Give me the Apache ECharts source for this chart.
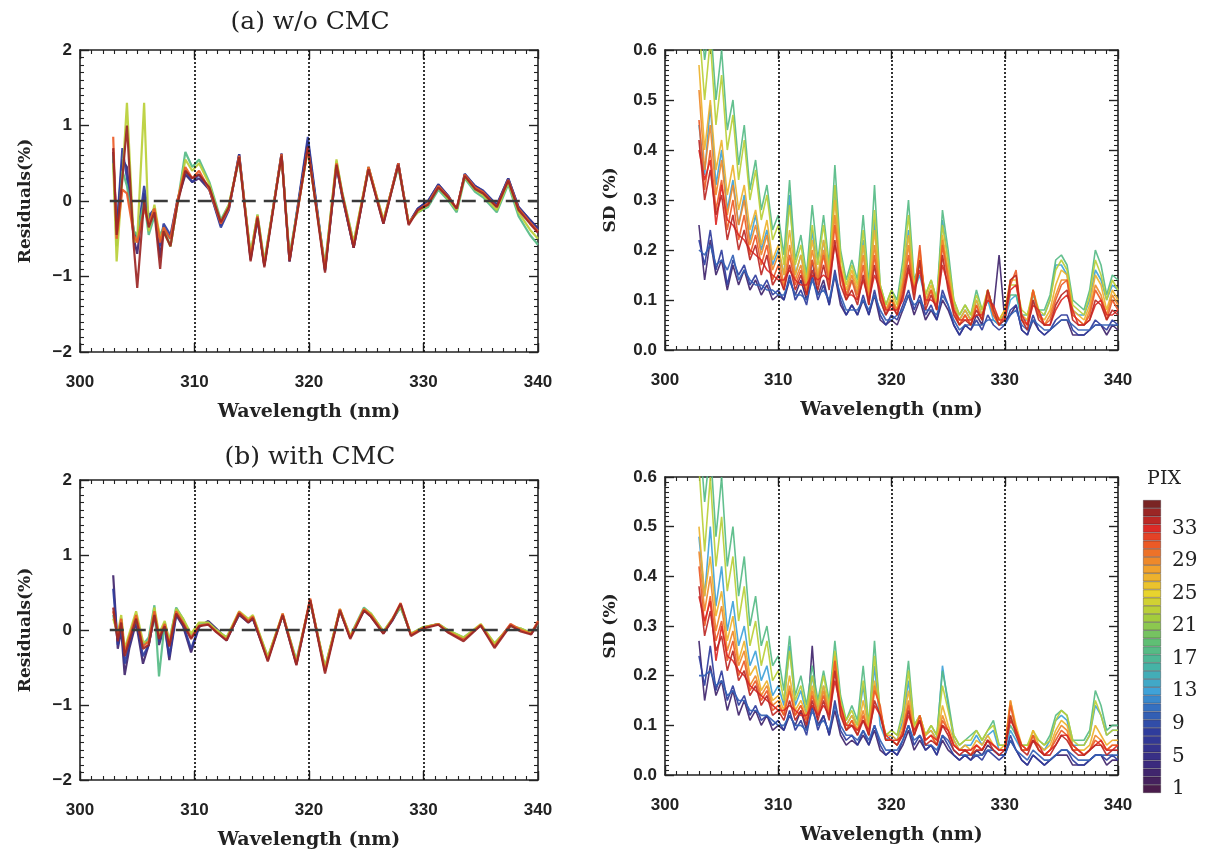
<!DOCTYPE html>
<html><head><meta charset="utf-8">
<script src="https://cdn.jsdelivr.net/npm/echarts/dist/echarts.min.js"></script>
<style>html,body{margin:0;padding:0;background:#fff}#c{width:1229px;height:852px}</style>
</head><body><div id="c"></div>
<script>
// ---------------- DATA ----------------
const xTicks = [300, 310, 320, 330, 340];
const guideLines = [310, 320, 330];
const zeroLineX = [302.6, 340];
const colorbarPix = [1,2,3,4,5,6,7,8,9,10,11,12,13,14,15,16,17,18,19,20,21,22,23,24,25,26,27,28,29,30,31,32,33,34,35,36];

// (a) w/o CMC residuals
const wlResA = [302.9,303.2,303.7,304.1,304.7,305.0,305.6,306.0,306.5,307.0,307.3,307.9,308.5,309.2,309.8,310.4,
  311.3,312.3,313.0,313.9,314.9,315.5,316.1,317.6,318.3,319.9,321.4,322.4,322.9,323.9,325.2,326.5,
  327.8,328.7,329.5,330.4,331.3,332.2,332.9,333.6,334.5,335.2,336.4,337.4,338.3,339.3,340.0];
const resA_p3 = [0.65,-0.40,0.55,0.45,-0.50,-0.70,0.10,-0.25,-0.10,-0.75,-0.35,-0.50,0.00,0.35,0.25,0.30,
  0.15,-0.32,-0.10,0.62,-0.78,-0.22,-0.86,0.63,-0.80,0.80,-0.92,0.46,0.06,-0.62,0.44,-0.30,
  0.50,-0.30,-0.10,0.00,0.22,0.06,-0.12,0.35,0.20,0.13,-0.06,0.30,-0.08,-0.25,-0.36];
const resA_p8 = [0.60,-0.40,0.70,0.30,-0.40,-0.50,0.20,-0.20,-0.10,-0.60,-0.30,-0.45,0.00,0.40,0.25,0.35,
  0.15,-0.35,-0.12,0.62,-0.75,-0.25,-0.85,0.62,-0.80,0.85,-0.92,0.48,0.08,-0.62,0.45,-0.28,
  0.50,-0.30,-0.10,0.00,0.22,0.06,-0.12,0.36,0.20,0.14,-0.05,0.30,-0.08,-0.25,-0.38];
const resA_p18 = [0.60,-0.60,0.40,0.20,-0.40,-0.45,0.00,-0.45,-0.20,-0.45,-0.35,-0.60,-0.05,0.65,0.45,0.55,
  0.25,-0.25,-0.05,0.55,-0.70,-0.18,-0.80,0.60,-0.72,0.68,-0.85,0.52,0.12,-0.55,0.42,-0.25,
  0.45,-0.28,-0.15,-0.08,0.15,0.00,-0.15,0.30,0.12,0.05,-0.15,0.22,-0.20,-0.45,-0.58];
const resA_p23 = [0.50,-0.80,0.30,1.30,-0.55,-0.50,1.30,-0.40,-0.05,-0.50,-0.40,-0.60,-0.05,0.55,0.40,0.50,
  0.22,-0.28,-0.05,0.58,-0.70,-0.18,-0.82,0.60,-0.75,0.68,-0.88,0.55,0.10,-0.55,0.45,-0.25,
  0.48,-0.28,-0.15,-0.05,0.18,0.02,-0.12,0.32,0.15,0.08,-0.12,0.25,-0.15,-0.38,-0.50];
const resA_p31 = [0.85,-0.50,0.15,0.10,-0.45,-0.55,-0.10,-0.30,-0.10,-0.55,-0.35,-0.50,0.00,0.45,0.30,0.40,
  0.15,-0.30,-0.10,0.60,-0.75,-0.20,-0.85,0.62,-0.78,0.70,-0.90,0.50,0.10,-0.60,0.45,-0.28,
  0.50,-0.30,-0.12,-0.03,0.20,0.05,-0.10,0.35,0.18,0.12,-0.08,0.28,-0.10,-0.28,-0.40];
const resA_p35 = [0.70,-0.45,0.30,1.00,-0.60,-1.15,0.00,-0.35,-0.15,-0.90,-0.40,-0.60,-0.05,0.40,0.30,0.35,
  0.18,-0.28,-0.08,0.58,-0.80,-0.22,-0.88,0.60,-0.80,0.72,-0.95,0.48,0.08,-0.62,0.42,-0.30,
  0.48,-0.32,-0.12,-0.05,0.18,0.04,-0.10,0.33,0.16,0.10,-0.08,0.27,-0.12,-0.30,-0.42];

// (b) with CMC residuals
const wlResB = [302.9,303.3,303.6,303.9,304.3,304.9,305.5,306.0,306.5,306.9,307.4,307.8,308.4,309.0,309.7,310.4,
  311.2,311.9,312.8,313.9,314.7,315.1,316.4,317.7,318.9,320.1,321.4,322.7,323.6,324.8,325.4,326.5,
  327.3,328.0,328.9,330.0,331.3,332.1,333.5,335.0,336.2,337.6,338.5,339.4,340.0];
const resB_p3 = [0.73,-0.25,0.00,-0.60,-0.25,0.10,-0.45,-0.20,0.20,-0.20,0.05,-0.40,0.20,0.05,-0.30,0.04,
  0.12,0.02,-0.12,0.20,0.10,0.15,-0.38,0.20,-0.44,0.38,-0.52,0.26,-0.10,0.26,0.18,-0.04,
  0.13,0.32,-0.06,0.03,0.08,-0.02,-0.12,0.06,-0.20,0.06,0.00,-0.05,0.08];
const resB_p8 = [0.55,-0.20,0.05,-0.45,-0.20,0.15,-0.35,-0.20,0.22,-0.15,0.05,-0.35,0.22,0.08,-0.25,0.05,
  0.10,-0.02,-0.14,0.22,0.10,0.15,-0.40,0.20,-0.46,0.40,-0.54,0.27,-0.10,0.27,0.20,-0.04,
  0.14,0.33,-0.06,0.03,0.08,-0.02,-0.12,0.07,-0.20,0.07,0.00,-0.05,0.10];
const resB_p18 = [0.20,-0.10,0.15,-0.30,-0.08,0.15,-0.20,-0.10,0.33,-0.62,0.10,-0.15,0.30,0.15,-0.08,0.08,
  0.10,0.00,-0.10,0.22,0.12,0.18,-0.36,0.20,-0.40,0.38,-0.50,0.26,-0.08,0.30,0.22,-0.02,
  0.15,0.30,-0.05,0.04,0.08,0.00,-0.10,0.06,-0.18,0.05,0.02,-0.04,0.08];
const resB_p23 = [0.15,-0.05,0.20,-0.25,-0.05,0.25,-0.15,-0.18,0.30,-0.05,0.12,-0.15,0.28,0.15,-0.05,0.10,
  0.10,0.00,-0.10,0.25,0.15,0.20,-0.36,0.22,-0.42,0.40,-0.50,0.28,-0.08,0.28,0.22,-0.02,
  0.16,0.32,-0.05,0.04,0.08,0.00,-0.10,0.08,-0.18,0.06,0.02,-0.04,0.10];
const resB_p31 = [0.25,-0.10,0.15,-0.30,-0.10,0.20,-0.22,-0.15,0.25,-0.10,0.08,-0.20,0.25,0.10,-0.10,0.06,
  0.08,-0.02,-0.13,0.24,0.12,0.18,-0.40,0.22,-0.45,0.42,-0.55,0.28,-0.10,0.28,0.20,-0.04,
  0.15,0.36,-0.06,0.03,0.08,-0.02,-0.13,0.07,-0.22,0.08,0.00,-0.05,0.12];
const resB_p35 = [0.30,-0.15,0.10,-0.35,-0.15,0.15,-0.25,-0.20,0.20,-0.12,0.05,-0.22,0.22,0.08,-0.12,0.05,
  0.07,-0.03,-0.14,0.22,0.10,0.16,-0.42,0.20,-0.47,0.40,-0.58,0.26,-0.12,0.26,0.18,-0.05,
  0.14,0.35,-0.08,0.02,0.07,-0.03,-0.15,0.06,-0.24,0.06,-0.02,-0.06,0.10];

// SD panels (shared wavelength grid)
const wlSD = [303.0,303.5,304.0,304.5,305.0,305.5,306.0,306.5,307.0,307.5,308.0,308.5,309.0,309.5,310.0,
  310.5,311.0,311.5,312.0,312.5,313.0,313.5,314.0,314.5,315.0,315.5,316.0,316.5,317.0,317.5,
  318.0,318.5,319.0,319.5,320.0,320.5,321.0,321.5,322.0,322.5,323.0,323.5,324.0,324.5,325.0,
  325.5,326.0,326.5,327.0,327.5,328.0,328.5,329.0,329.5,330.0,330.5,331.0,331.5,332.0,332.5,
  333.0,333.5,334.0,334.5,335.0,335.5,336.0,336.5,337.0,337.5,338.0,338.5,339.0,339.5,340.0];

// SD without CMC
const sdA_p3 = [0.25,0.14,0.22,0.15,0.18,0.12,0.17,0.13,0.16,0.12,0.14,0.11,0.13,0.10,0.11,
  0.10,0.14,0.11,0.14,0.10,0.18,0.11,0.14,0.09,0.15,0.09,0.07,0.09,0.07,0.10,
  0.07,0.11,0.06,0.05,0.06,0.05,0.08,0.11,0.07,0.10,0.06,0.08,0.06,0.10,0.08,
  0.05,0.03,0.05,0.04,0.07,0.05,0.12,0.08,0.19,0.06,0.07,0.09,0.04,0.03,0.06,
  0.04,0.03,0.04,0.05,0.06,0.06,0.03,0.03,0.03,0.04,0.05,0.05,0.03,0.05,0.04];
const sdA_p8 = [0.22,0.17,0.24,0.16,0.20,0.13,0.18,0.15,0.17,0.13,0.15,0.12,0.14,0.11,0.12,
  0.10,0.15,0.10,0.12,0.09,0.15,0.10,0.13,0.09,0.16,0.10,0.07,0.09,0.07,0.11,
  0.07,0.12,0.07,0.05,0.07,0.06,0.09,0.12,0.08,0.11,0.07,0.09,0.06,0.12,0.09,
  0.05,0.03,0.05,0.04,0.06,0.04,0.07,0.05,0.04,0.05,0.08,0.09,0.04,0.03,0.07,
  0.04,0.03,0.04,0.06,0.07,0.07,0.04,0.03,0.03,0.04,0.06,0.05,0.04,0.06,0.05];
const sdA_p10 = [0.20,0.19,0.21,0.17,0.18,0.16,0.19,0.14,0.16,0.14,0.13,0.13,0.12,0.12,0.11,
  0.11,0.14,0.11,0.11,0.10,0.14,0.11,0.12,0.10,0.15,0.11,0.08,0.08,0.08,0.10,
  0.08,0.11,0.08,0.06,0.06,0.07,0.08,0.11,0.09,0.10,0.08,0.08,0.07,0.11,0.09,
  0.06,0.04,0.05,0.05,0.05,0.05,0.06,0.06,0.05,0.05,0.07,0.08,0.05,0.04,0.06,
  0.05,0.04,0.04,0.05,0.06,0.06,0.05,0.04,0.04,0.04,0.05,0.05,0.05,0.05,0.05];
const sdA_p13 = [0.45,0.35,0.49,0.33,0.40,0.28,0.34,0.25,0.31,0.22,0.27,0.20,0.24,0.17,0.20,
  0.15,0.31,0.15,0.19,0.13,0.24,0.14,0.22,0.14,0.33,0.16,0.11,0.14,0.11,0.22,
  0.10,0.26,0.10,0.07,0.10,0.08,0.14,0.24,0.12,0.15,0.10,0.12,0.09,0.26,0.18,
  0.09,0.06,0.08,0.06,0.10,0.07,0.10,0.06,0.05,0.06,0.10,0.11,0.06,0.06,0.10,
  0.07,0.07,0.10,0.17,0.17,0.15,0.08,0.07,0.07,0.10,0.16,0.14,0.10,0.13,0.12];
const sdA_p18 = [0.70,0.58,0.66,0.50,0.60,0.44,0.50,0.37,0.45,0.32,0.38,0.28,0.33,0.24,0.27,
  0.19,0.34,0.18,0.23,0.15,0.29,0.18,0.27,0.17,0.37,0.20,0.14,0.18,0.14,0.27,
  0.13,0.33,0.13,0.09,0.12,0.10,0.18,0.30,0.14,0.17,0.11,0.14,0.10,0.28,0.20,
  0.10,0.07,0.09,0.07,0.12,0.08,0.11,0.07,0.06,0.07,0.11,0.11,0.07,0.07,0.11,
  0.08,0.08,0.11,0.18,0.19,0.17,0.10,0.09,0.08,0.12,0.20,0.17,0.11,0.15,0.14];
const sdA_p23 = [0.65,0.50,0.62,0.45,0.55,0.40,0.47,0.34,0.42,0.30,0.36,0.26,0.31,0.22,0.25,
  0.17,0.29,0.17,0.21,0.14,0.25,0.17,0.25,0.16,0.33,0.19,0.13,0.17,0.13,0.24,
  0.12,0.28,0.13,0.09,0.12,0.09,0.16,0.27,0.13,0.18,0.11,0.14,0.10,0.25,0.18,
  0.10,0.07,0.09,0.07,0.11,0.08,0.12,0.08,0.06,0.08,0.13,0.13,0.08,0.07,0.12,
  0.08,0.07,0.10,0.16,0.18,0.16,0.09,0.08,0.07,0.11,0.18,0.15,0.10,0.14,0.12];
const sdA_p27 = [0.57,0.40,0.50,0.36,0.42,0.31,0.37,0.28,0.33,0.24,0.28,0.21,0.26,0.18,0.21,
  0.15,0.24,0.15,0.19,0.13,0.22,0.15,0.22,0.15,0.30,0.17,0.12,0.16,0.12,0.21,
  0.11,0.24,0.12,0.08,0.11,0.08,0.14,0.23,0.12,0.19,0.10,0.13,0.09,0.23,0.16,
  0.09,0.06,0.08,0.06,0.10,0.07,0.12,0.08,0.06,0.08,0.14,0.14,0.07,0.06,0.12,
  0.07,0.06,0.08,0.13,0.16,0.15,0.08,0.07,0.06,0.09,0.15,0.13,0.08,0.12,0.10];
const sdA_p29 = [0.52,0.36,0.45,0.31,0.38,0.27,0.33,0.25,0.30,0.21,0.25,0.19,0.23,0.16,0.19,
  0.13,0.21,0.14,0.17,0.12,0.20,0.14,0.20,0.14,0.27,0.16,0.11,0.15,0.11,0.19,
  0.10,0.21,0.12,0.08,0.10,0.08,0.13,0.21,0.11,0.20,0.09,0.12,0.08,0.22,0.15,
  0.08,0.05,0.07,0.05,0.09,0.06,0.12,0.07,0.05,0.07,0.14,0.15,0.06,0.05,0.12,
  0.07,0.05,0.07,0.11,0.14,0.14,0.07,0.06,0.05,0.08,0.13,0.11,0.07,0.11,0.09];
const sdA_p31 = [0.46,0.32,0.40,0.28,0.34,0.24,0.30,0.22,0.27,0.19,0.23,0.17,0.21,0.14,0.17,
  0.12,0.19,0.13,0.16,0.11,0.18,0.13,0.19,0.13,0.25,0.15,0.10,0.14,0.10,0.17,
  0.09,0.19,0.11,0.07,0.10,0.07,0.12,0.19,0.11,0.21,0.09,0.12,0.08,0.21,0.14,
  0.08,0.05,0.07,0.05,0.09,0.06,0.11,0.07,0.05,0.07,0.13,0.16,0.06,0.05,0.12,
  0.07,0.05,0.06,0.10,0.13,0.14,0.07,0.06,0.05,0.07,0.12,0.10,0.06,0.10,0.08];
const sdA_p33 = [0.40,0.34,0.38,0.25,0.33,0.26,0.25,0.23,0.22,0.20,0.19,0.18,0.16,0.15,0.14,
  0.14,0.16,0.14,0.13,0.13,0.15,0.14,0.15,0.14,0.21,0.16,0.11,0.11,0.10,0.14,
  0.10,0.15,0.12,0.08,0.08,0.08,0.10,0.16,0.12,0.16,0.10,0.10,0.09,0.17,0.13,
  0.08,0.06,0.06,0.06,0.07,0.07,0.10,0.09,0.06,0.06,0.12,0.13,0.07,0.05,0.09,
  0.08,0.05,0.05,0.08,0.10,0.11,0.08,0.05,0.05,0.06,0.09,0.10,0.07,0.07,0.08];
const sdA_p34 = [0.42,0.30,0.36,0.27,0.31,0.22,0.27,0.20,0.24,0.18,0.21,0.15,0.19,0.13,0.15,
  0.12,0.17,0.12,0.15,0.11,0.16,0.12,0.17,0.12,0.22,0.13,0.10,0.12,0.09,0.15,
  0.09,0.17,0.10,0.07,0.09,0.07,0.11,0.17,0.10,0.18,0.08,0.11,0.08,0.19,0.12,
  0.07,0.05,0.06,0.05,0.08,0.06,0.12,0.08,0.05,0.06,0.14,0.15,0.06,0.04,0.10,
  0.06,0.05,0.05,0.09,0.11,0.12,0.06,0.05,0.05,0.06,0.10,0.09,0.06,0.08,0.07];

// SD with CMC
const sdB_p3 = [0.27,0.15,0.22,0.16,0.19,0.13,0.17,0.12,0.15,0.11,0.13,0.10,0.12,0.09,0.10,
  0.09,0.12,0.10,0.13,0.09,0.26,0.10,0.12,0.08,0.13,0.08,0.06,0.07,0.06,0.08,
  0.06,0.09,0.05,0.04,0.05,0.04,0.06,0.09,0.05,0.07,0.05,0.06,0.04,0.07,0.05,
  0.04,0.03,0.04,0.03,0.05,0.04,0.06,0.05,0.04,0.04,0.07,0.05,0.03,0.02,0.04,
  0.03,0.02,0.03,0.04,0.04,0.04,0.02,0.02,0.02,0.03,0.04,0.04,0.02,0.03,0.03];
const sdB_p8 = [0.24,0.18,0.26,0.17,0.21,0.15,0.18,0.14,0.16,0.12,0.14,0.11,0.12,0.10,0.11,
  0.09,0.13,0.09,0.11,0.08,0.14,0.09,0.12,0.08,0.15,0.09,0.07,0.08,0.06,0.09,
  0.06,0.10,0.06,0.04,0.05,0.04,0.07,0.10,0.06,0.08,0.05,0.06,0.04,0.08,0.06,
  0.04,0.03,0.04,0.03,0.04,0.03,0.05,0.04,0.03,0.04,0.08,0.05,0.03,0.02,0.04,
  0.03,0.02,0.03,0.04,0.05,0.05,0.03,0.02,0.02,0.03,0.04,0.04,0.03,0.04,0.03];
const sdB_p10 = [0.20,0.20,0.21,0.18,0.19,0.16,0.17,0.15,0.15,0.13,0.13,0.12,0.12,0.11,0.10,
  0.10,0.12,0.10,0.10,0.09,0.13,0.10,0.11,0.09,0.14,0.10,0.08,0.08,0.07,0.09,
  0.07,0.10,0.07,0.05,0.05,0.05,0.07,0.10,0.07,0.08,0.06,0.06,0.05,0.08,0.07,
  0.05,0.04,0.04,0.04,0.04,0.04,0.05,0.05,0.04,0.04,0.07,0.05,0.04,0.03,0.05,
  0.04,0.03,0.03,0.04,0.05,0.05,0.04,0.03,0.03,0.03,0.04,0.04,0.04,0.04,0.04];
const sdB_p13 = [0.48,0.36,0.50,0.34,0.42,0.29,0.35,0.26,0.30,0.22,0.25,0.19,0.22,0.16,0.18,
  0.14,0.26,0.14,0.17,0.12,0.20,0.13,0.18,0.13,0.24,0.14,0.10,0.12,0.10,0.18,
  0.09,0.22,0.10,0.07,0.08,0.07,0.11,0.19,0.09,0.11,0.08,0.09,0.07,0.22,0.14,
  0.07,0.05,0.06,0.06,0.08,0.06,0.08,0.09,0.05,0.05,0.09,0.07,0.05,0.05,0.07,
  0.06,0.05,0.07,0.11,0.12,0.11,0.06,0.06,0.06,0.08,0.14,0.12,0.08,0.09,0.09];
const sdB_p18 = [0.70,0.55,0.66,0.48,0.60,0.42,0.50,0.36,0.44,0.30,0.36,0.26,0.30,0.22,0.24,
  0.17,0.28,0.16,0.20,0.14,0.22,0.15,0.21,0.15,0.27,0.16,0.11,0.14,0.11,0.22,
  0.10,0.27,0.12,0.08,0.09,0.08,0.13,0.23,0.10,0.12,0.08,0.10,0.08,0.21,0.15,
  0.08,0.06,0.07,0.08,0.09,0.07,0.09,0.11,0.06,0.06,0.10,0.08,0.06,0.06,0.08,
  0.07,0.06,0.08,0.12,0.13,0.12,0.07,0.07,0.07,0.09,0.17,0.14,0.09,0.10,0.10];
const sdB_p23 = [0.62,0.45,0.60,0.42,0.52,0.37,0.44,0.31,0.38,0.26,0.31,0.22,0.27,0.19,0.21,
  0.15,0.25,0.15,0.18,0.13,0.20,0.14,0.20,0.14,0.25,0.15,0.11,0.13,0.10,0.19,
  0.10,0.24,0.13,0.08,0.09,0.08,0.12,0.21,0.10,0.12,0.08,0.10,0.08,0.18,0.13,
  0.08,0.06,0.07,0.07,0.09,0.07,0.09,0.10,0.06,0.06,0.12,0.09,0.06,0.06,0.09,
  0.07,0.06,0.07,0.11,0.13,0.12,0.07,0.06,0.06,0.08,0.15,0.12,0.08,0.09,0.09];
const sdB_p27 = [0.50,0.36,0.44,0.32,0.37,0.27,0.32,0.23,0.27,0.20,0.22,0.17,0.19,0.15,0.16,
  0.13,0.20,0.13,0.15,0.12,0.18,0.13,0.18,0.13,0.24,0.14,0.10,0.12,0.09,0.15,
  0.09,0.19,0.13,0.08,0.08,0.07,0.10,0.17,0.09,0.12,0.08,0.09,0.07,0.14,0.10,
  0.07,0.05,0.06,0.05,0.07,0.06,0.08,0.06,0.05,0.06,0.15,0.10,0.06,0.05,0.09,
  0.06,0.05,0.06,0.09,0.11,0.10,0.06,0.05,0.05,0.06,0.10,0.08,0.06,0.07,0.07];
const sdB_p29 = [0.45,0.33,0.40,0.29,0.34,0.25,0.29,0.22,0.25,0.18,0.20,0.16,0.18,0.14,0.15,
  0.12,0.18,0.12,0.14,0.11,0.17,0.12,0.17,0.12,0.23,0.13,0.09,0.11,0.09,0.13,
  0.08,0.18,0.13,0.07,0.07,0.06,0.09,0.15,0.08,0.12,0.07,0.08,0.06,0.12,0.09,
  0.06,0.05,0.05,0.04,0.06,0.05,0.07,0.06,0.05,0.05,0.15,0.09,0.05,0.05,0.08,
  0.05,0.04,0.05,0.08,0.10,0.09,0.05,0.05,0.04,0.05,0.08,0.07,0.05,0.06,0.06];
const sdB_p31 = [0.42,0.30,0.36,0.27,0.31,0.23,0.27,0.20,0.23,0.17,0.19,0.15,0.17,0.13,0.14,
  0.12,0.17,0.12,0.14,0.11,0.16,0.12,0.16,0.12,0.23,0.13,0.09,0.11,0.08,0.12,
  0.08,0.17,0.14,0.07,0.07,0.06,0.09,0.14,0.08,0.12,0.07,0.08,0.06,0.11,0.09,
  0.06,0.05,0.05,0.04,0.06,0.05,0.07,0.06,0.05,0.05,0.14,0.09,0.05,0.05,0.08,
  0.05,0.04,0.05,0.07,0.09,0.08,0.05,0.05,0.04,0.05,0.07,0.06,0.05,0.06,0.06];
const sdB_p33 = [0.36,0.31,0.35,0.23,0.30,0.24,0.23,0.21,0.20,0.18,0.17,0.16,0.15,0.14,0.13,
  0.13,0.14,0.13,0.12,0.12,0.14,0.12,0.14,0.12,0.19,0.14,0.10,0.10,0.09,0.11,
  0.09,0.14,0.12,0.08,0.07,0.07,0.08,0.12,0.09,0.11,0.07,0.08,0.07,0.10,0.09,
  0.06,0.05,0.05,0.05,0.06,0.05,0.07,0.06,0.05,0.05,0.11,0.09,0.06,0.05,0.07,
  0.06,0.04,0.05,0.06,0.08,0.08,0.06,0.05,0.04,0.05,0.06,0.07,0.05,0.05,0.06];
const sdB_p34 = [0.38,0.28,0.33,0.25,0.28,0.21,0.25,0.19,0.21,0.16,0.18,0.14,0.16,0.12,0.13,
  0.11,0.15,0.11,0.13,0.10,0.15,0.11,0.15,0.11,0.21,0.12,0.09,0.10,0.08,0.11,
  0.08,0.15,0.12,0.07,0.07,0.06,0.08,0.13,0.08,0.11,0.06,0.07,0.06,0.10,0.08,
  0.05,0.04,0.05,0.04,0.05,0.05,0.07,0.05,0.04,0.05,0.12,0.08,0.05,0.04,0.07,
  0.05,0.04,0.04,0.06,0.08,0.07,0.05,0.04,0.04,0.05,0.06,0.06,0.04,0.05,0.05];

// ---------------- STYLE / BUILD ----------------
const cmapStops = [[1,'#4a1c4c'],[4,'#3b2a7e'],[8,'#2f3c9c'],[11,'#3570c0'],[13,'#3fa2d8'],[16,'#45b3a6'],
  [19,'#5fbf74'],[22,'#a3cc3c'],[25,'#e8d42e'],[28,'#f0a12c'],[31,'#eb5a26'],[33,'#dd2a26'],[36,'#7a2424']];
function hex(s){return [1,3,5].map(i=>parseInt(s.substr(i,2),16));}
function pixColor(p){
  for(let k=0;k<cmapStops.length-1;k++){
    const [a,ca]=cmapStops[k],[b,cb]=cmapStops[k+1];
    if(p>=a&&p<=b){const t=(p-a)/(b-a);const A=hex(ca),B=hex(cb);
      return 'rgb('+A.map((v,i)=>Math.round(v+(B[i]-v)*t)).join(',')+')';}
  }
  return cmapStops[cmapStops.length-1][1];
}
const INK='#222';
const serif='"DejaVu Serif", "Liberation Serif", serif';
const sans='"Liberation Sans", Arial, sans-serif';

const grids=[
  {left:80,top:50,width:458,height:302},
  {left:665,top:50,width:453,height:300},
  {left:80,top:480,width:458,height:300},
  {left:665,top:477,width:453,height:298},
  {left:1143,top:500,width:18,height:293}
];

const xAxis=[], yAxis=[];
function tickCommon(){
  return {
    axisLine:{onZero:false,lineStyle:{color:INK,width:1.6}},
    axisTick:{inside:true,length:9,lineStyle:{color:INK,width:1.4}},
    minorTick:{show:true,splitNumber:10,length:4,lineStyle:{color:INK,width:1.1}},
    splitLine:{show:false}
  };
}
function addX(gi){
  const b={type:'value',gridIndex:gi,min:xTicks[0],max:xTicks[xTicks.length-1],interval:xTicks[1]-xTicks[0]};
  xAxis.push(Object.assign({},b,tickCommon(),{position:'bottom',
    axisLabel:{fontSize:17,fontWeight:'bold',color:INK,margin:22,fontFamily:sans},
    name:'Wavelength (nm)',nameLocation:'middle',nameGap:51,
    nameTextStyle:{fontFamily:serif,fontWeight:'bold',fontSize:19,color:INK}}));
  xAxis.push(Object.assign({},b,tickCommon(),{position:'top',axisLabel:{show:false}}));
}
function addY(gi,isSD){
  const b=isSD?{type:'value',gridIndex:gi,min:0,max:0.6,interval:0.1}:{type:'value',gridIndex:gi,min:-2,max:2,interval:1};
  const fmt=isSD?(v=>v.toFixed(1)):(v=>String(v).replace('-','\u2212'));
  yAxis.push(Object.assign({},b,tickCommon(),{position:'left',
    axisLabel:{fontSize:17,fontWeight:'bold',color:INK,margin:8,fontFamily:sans,formatter:fmt},
    name:isSD?'SD (%)':'Residuals(%)',nameLocation:'middle',nameGap:isSD?46:46,
    nameTextStyle:{fontFamily:serif,fontWeight:'bold',fontSize:17,color:INK}}));
  yAxis.push(Object.assign({},b,tickCommon(),{position:'right',axisLabel:{show:false}}));
}
addX(0);addY(0,false);
addX(1);addY(1,true);
addX(2);addY(2,false);
addX(3);addY(3,true);
// colorbar axes
xAxis.push({type:'value',gridIndex:4,min:0,max:1,show:false});
yAxis.push({type:'category',gridIndex:4,data:colorbarPix.map(String),position:'right',
  axisLine:{show:false},axisTick:{show:false},splitLine:{show:false},
  axisLabel:{interval:(i)=>i%4===0,fontSize:20,color:INK,fontFamily:serif,margin:11}});

const series=[];
function addLines(gi,wl,list,width){
  list.forEach(([pix,vals])=>{
    series.push({type:'line',xAxisIndex:gi*2,yAxisIndex:gi*2,silent:true,symbol:'none',
      data:wl.map((w,i)=>[w,vals[i]]),
      lineStyle:{width:width,color:pixColor(pix),opacity:0.92},z:2});
  });
}
function addGuides(gi,withZero){
  series.push({type:'line',xAxisIndex:gi*2,yAxisIndex:gi*2,data:[],silent:true,symbol:'none',
    markLine:{silent:true,symbol:'none',label:{show:false},animation:false,
      lineStyle:{type:[2,2],color:'#111',width:1.7},
      data:guideLines.map(x=>({xAxis:x}))},z:3});
  if(withZero){
    series.push({type:'line',xAxisIndex:gi*2,yAxisIndex:gi*2,silent:true,symbol:'none',
      data:zeroLineX.map(x=>[x,0]),
      lineStyle:{type:[14,8],color:'#3a3a3a',width:2.4},z:4});
  }
}
addGuides(0,true);
addLines(0,wlResA,[[3,resA_p3],[8,resA_p8],[18,resA_p18],[23,resA_p23],[31,resA_p31],[35,resA_p35]],2.2);
addGuides(1,false);
addLines(1,wlSD,[[3,sdA_p3],[8,sdA_p8],[10,sdA_p10],[13,sdA_p13],[18,sdA_p18],[23,sdA_p23],[27,sdA_p27],[29,sdA_p29],[31,sdA_p31],[33,sdA_p33],[34,sdA_p34]],1.6);
addGuides(2,true);
addLines(2,wlResB,[[3,resB_p3],[8,resB_p8],[18,resB_p18],[23,resB_p23],[31,resB_p31],[35,resB_p35]],2.2);
addGuides(3,false);
addLines(3,wlSD,[[3,sdB_p3],[8,sdB_p8],[10,sdB_p10],[13,sdB_p13],[18,sdB_p18],[23,sdB_p23],[27,sdB_p27],[29,sdB_p29],[31,sdB_p31],[33,sdB_p33],[34,sdB_p34]],1.6);
// colorbar
series.push({type:'bar',xAxisIndex:8,yAxisIndex:8,silent:true,barWidth:'100%',barCategoryGap:'0%',
  data:colorbarPix.map(p=>({value:1,itemStyle:{color:pixColor(p)}})),
  itemStyle:{borderColor:'rgba(30,20,30,0.55)',borderWidth:0.6}});

const chart=echarts.init(document.getElementById('c'),null,{renderer:'canvas'});
chart.setOption({
  animation:false,
  backgroundColor:'#fff',
  grid:grids,
  xAxis:xAxis,
  yAxis:yAxis,
  series:series,
  graphic:[
    {type:'text',x:310,y:22,style:{text:'(a) w/o CMC',font:'25px '+serif,fill:INK,align:'center',verticalAlign:'middle'}},
    {type:'text',x:310,y:457,style:{text:'(b) with CMC',font:'25px '+serif,fill:INK,align:'center',verticalAlign:'middle'}},
    {type:'text',x:1164,y:479,style:{text:'PIX',font:'19px '+serif,fill:INK,align:'center',verticalAlign:'middle'}}
  ]
});
</script></body></html>
